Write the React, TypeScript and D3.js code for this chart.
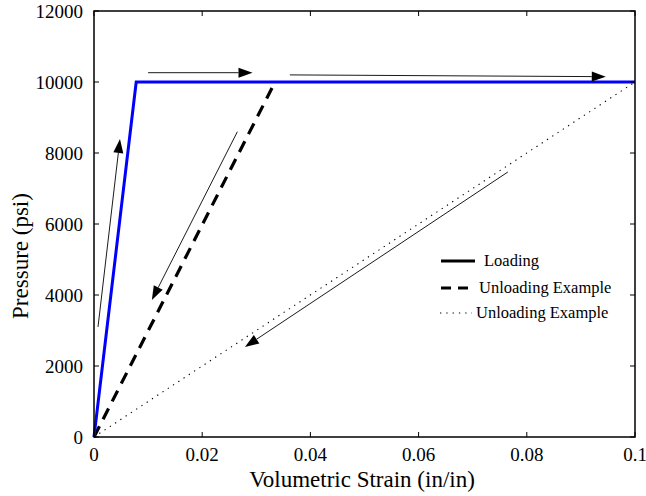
import React from "react";
import * as d3 from "d3";

const xTicks = [0, 0.02, 0.04, 0.06, 0.08, 0.1];
const xTickLabels = ["0", "0.02", "0.04", "0.06", "0.08", "0.1"];
const yTicks = [0, 2000, 4000, 6000, 8000, 10000, 12000];
const yTickLabels = ["0", "2000", "4000", "6000", "8000", "10000", "12000"];

const loadingX = [0, 0.0078, 0.1];
const loadingY = [0, 10000, 10000];
const unloadDashX = [0, 0.0329];
const unloadDashY = [0, 9830];
const unloadDotX = [0, 0.1];
const unloadDotY = [0, 10000];

// arrows: [x1, y1, x2, y2] (tail -> tip)
const arrowX1 = [0.00074, 0.0100, 0.0362, 0.0265, 0.0765];
const arrowY1 = [3100, 10262, 10200, 8600, 7465];
const arrowX2 = [0.0048, 0.0293, 0.0946, 0.0107, 0.0279];
const arrowY2 = [8394, 10262, 10150, 3860, 2535];

const legendLabels = ["Loading", "Unloading Example", "Unloading Example"];

const W = 646, H = 496;
const L = 94, R = 635, T = 11, B = 437;

export default function App() {
  const x = d3.scaleLinear().domain([0, 0.1]).range([L, R]);
  const y = d3.scaleLinear().domain([0, 12000]).range([B, T]);
  const line = d3.line<[number, number]>().x(d => x(d[0])).y(d => y(d[1]));
  const pts = (xs: number[], ys: number[]) => xs.map((v, i) => [v, ys[i]] as [number, number]);
  const font = "'Liberation Serif', 'Times New Roman', serif";
  const tickLen = 5;

  const arrows = arrowX1.map((_, i) => {
    const x1 = x(arrowX1[i]), y1 = y(arrowY1[i]), x2 = x(arrowX2[i]), y2 = y(arrowY2[i]);
    const ang = Math.atan2(y2 - y1, x2 - x1);
    const hl = 14, hw = 5;
    const bx = x2 - hl * Math.cos(ang), by = y2 - hl * Math.sin(ang);
    const px = -Math.sin(ang) * hw, py = Math.cos(ang) * hw;
    return (
      <g key={i}>
        <line x1={x1} y1={y1} x2={bx} y2={by} stroke="#000" strokeWidth={0.9} />
        <polygon points={`${x2},${y2} ${bx + px},${by + py} ${bx - px},${by - py}`} fill="#000" />
      </g>
    );
  });

  const legY = [261, 288, 313];
  const legTextX = [484, 479, 476];
  const legStyles = [
    { stroke: "#000", strokeWidth: 3, dash: undefined as string | undefined, x1: 441, x2: 475 },
    { stroke: "#000", strokeWidth: 3, dash: "10,7", x1: 441, x2: 472 },
    { stroke: "#000", strokeWidth: 1.1, dash: "1.3,5", x1: 440, x2: 472 },
  ];

  return (
    <svg width={W} height={H} style={{ position: "absolute", left: 0, top: 0, background: "#fff" }}>
      <rect x={0} y={0} width={W} height={H} fill="#fff" />
      {/* data lines */}
      <path d={line(pts(unloadDotX, unloadDotY)) || ""} fill="none" stroke="#000" strokeWidth={1.1} strokeDasharray="1.3,5" />
      <path d={line(pts(unloadDashX, unloadDashY)) || ""} fill="none" stroke="#000" strokeWidth={3.2} strokeDasharray="12,8" />
      <path d={line(pts(loadingX, loadingY)) || ""} fill="none" stroke="#0000ff" strokeWidth={3} strokeLinejoin="miter" />
      {arrows}
      {/* frame */}
      <rect x={L} y={T} width={R - L} height={B - T} fill="none" stroke="#000" strokeWidth={1.5} />
      {xTicks.map((t, i) => (
        <g key={"x" + i}>
          <line x1={x(t)} x2={x(t)} y1={B} y2={B - tickLen} stroke="#000" />
          <line x1={x(t)} x2={x(t)} y1={T} y2={T + tickLen} stroke="#000" />
          <text x={x(t)} y={461} textAnchor="middle" fontFamily={font} fontSize={19} fill="#000">{xTickLabels[i]}</text>
        </g>
      ))}
      {yTicks.map((t, i) => (
        <g key={"y" + i}>
          <line x1={L} x2={L + tickLen} y1={y(t)} y2={y(t)} stroke="#000" />
          <line x1={R} x2={R - tickLen} y1={y(t)} y2={y(t)} stroke="#000" />
          <text x={83} y={y(t) + 6.5} textAnchor="end" fontFamily={font} fontSize={19} fill="#000">{yTickLabels[i]}</text>
        </g>
      ))}
      <text x={362} y={487} textAnchor="middle" fontFamily={font} fontSize={23} fill="#000">Volumetric Strain (in/in)</text>
      <text transform={`translate(28, 256) rotate(-90)`} textAnchor="middle" fontFamily={font} fontSize={23} fill="#000">Pressure (psi)</text>
      {/* legend */}
      {legendLabels.map((lab, i) => (
        <g key={"l" + i}>
          <line x1={legStyles[i].x1} x2={legStyles[i].x2} y1={legY[i]} y2={legY[i]} stroke={legStyles[i].stroke} strokeWidth={legStyles[i].strokeWidth} strokeDasharray={legStyles[i].dash} />
          <text x={legTextX[i]} y={legY[i] + 4.5} fontFamily={font} fontSize={16.5} fill="#000">{lab}</text>
        </g>
      ))}
    </svg>
  );
}
